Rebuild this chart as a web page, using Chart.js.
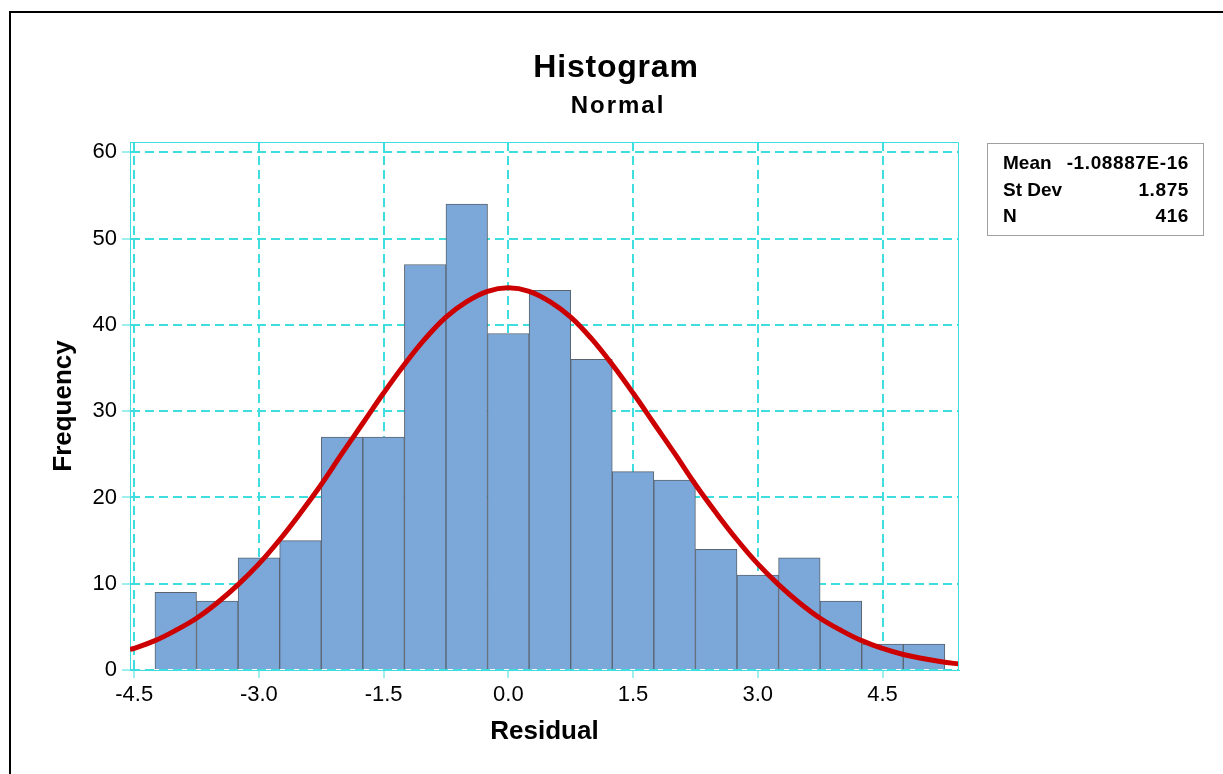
<!DOCTYPE html>
<html>
<head>
<meta charset="utf-8">
<script src="https://cdn.jsdelivr.net/npm/chart.js@4.4.0/dist/chart.umd.min.js"></script>
<style>
  html, body { margin: 0; padding: 0; background: #fff; }
  #caixa { position: relative; width: 1223px; height: 774px; }
</style>
</head>
<body>
<div id="caixa"><canvas id="grafico"></canvas></div>
<script>
const centrosClasses = [-4.0, -3.5, -3.0, -2.5, -2.0, -1.5, -1.0, -0.5, 0.0, 0.5, 1.0, 1.5, 2.0, 2.5, 3.0, 3.5, 4.0, 4.5, 5.0];
const frequencias = [9, 8, 13, 15, 27, 27, 47, 54, 39, 44, 36, 23, 22, 14, 11, 13, 8, 3, 3];

// curva normal ajustada
const curvaX = [-4.55, -4.5, -4.25, -4.0, -3.75, -3.5, -3.25, -3.0, -2.75, -2.5, -2.25, -2.0, -1.75, -1.5, -1.25, -1.0, -0.75, -0.5, -0.25, 0.0,
                0.25, 0.5, 0.75, 1.0, 1.25, 1.5, 1.75, 2.0, 2.25, 2.5, 2.75, 3.0, 3.25, 3.5, 3.75, 4.0, 4.25, 4.5, 4.75, 5.0, 5.25, 5.42];
const curvaY = [2.4, 2.5, 3.4, 4.6, 6.0, 7.8, 9.9, 12.3, 15.1, 18.2, 21.5, 25.1, 28.6, 32.1, 35.4, 38.4, 40.9, 42.7, 43.9, 44.3,
                43.9, 42.7, 40.9, 38.4, 35.4, 32.1, 28.6, 25.1, 21.5, 18.2, 15.1, 12.3, 9.9, 7.8, 6.0, 4.6, 3.4, 2.5, 1.8, 1.3, 0.9, 0.7];

const rotulosEstatisticas = ["Mean", "St Dev", "N"];
const valoresEstatisticas = ["-1.08887E-16", "1.875", "416"];

const corGrade = "#3fdede";
const corBarra = "#7ba7d9";
const corCurva = "#cc0000";
const fonte = "'Liberation Sans', Arial, sans-serif";

const molduraETitulos = {
    id: "molduraETitulos",
    afterDraw(chart) {
        const ctx = chart.ctx;
        const area = chart.chartArea;
        ctx.save();

        // moldura externa (so topo e esquerda aparecem)
        ctx.fillStyle = "#000";
        ctx.fillRect(9, 11, 1223, 2);
        ctx.fillRect(9, 11, 2, 774);

        // bordas superior e direita da area do grafico
        ctx.strokeStyle = corGrade;
        ctx.lineWidth = 1;
        ctx.beginPath();
        ctx.moveTo(area.left, area.top + 0.5);
        ctx.lineTo(area.right - 0.5, area.top + 0.5);
        ctx.lineTo(area.right - 0.5, area.bottom);
        ctx.stroke();

        // titulos
        ctx.fillStyle = "#000";
        ctx.textAlign = "center";
        ctx.textBaseline = "alphabetic";
        ctx.letterSpacing = "0.8px";
        ctx.font = `bold 32px ${fonte}`;
        ctx.fillText("Histogram", 616, 77);
        ctx.letterSpacing = "2px";
        ctx.font = `bold 24px ${fonte}`;
        ctx.fillText("Normal", 618, 113);
        ctx.letterSpacing = "0px";

        // caixa de estatisticas
        ctx.strokeStyle = "#a0a0a0";
        ctx.strokeRect(987.5, 143.5, 216, 92);
        ctx.font = `bold 19px ${fonte}`;
        const linhasBase = [169, 196, 222];
        rotulosEstatisticas.forEach((rotulo, i) => {
            ctx.textAlign = "left";
            ctx.fillText(rotulo, 1003, linhasBase[i]);
            ctx.textAlign = "right";
            ctx.letterSpacing = "0.6px";
            ctx.fillText(valoresEstatisticas[i], 1189, linhasBase[i]);
            ctx.letterSpacing = "0px";
        });
        ctx.restore();
    }
};

const ctx = document.querySelector("#grafico");

new Chart(ctx, {
    type: "bar",
    data: {
        datasets: [
            {
                type: "line",
                label: "Normal",
                data: curvaX.map((x, i) => ({ x: x, y: curvaY[i] })),
                borderColor: corCurva,
                borderWidth: 5,
                pointRadius: 0,
                tension: 0.4,
                fill: false,
                order: 0
            },
            {
                type: "bar",
                label: "Residual",
                data: centrosClasses.map((x, i) => ({ x: x, y: frequencias[i] })),
                backgroundColor: corBarra,
                borderColor: "#5a6470",
                borderWidth: 1,
                barPercentage: 1,
                categoryPercentage: 1,
                order: 1
            }
        ]
    },
    options: {
        responsive: true,
        maintainAspectRatio: false,
        animation: false,
        events: [],
        layout: { padding: { left: 0, top: 142, right: 264, bottom: 0 } },
        plugins: {
            legend: { display: false },
            tooltip: { enabled: false },
            title: { display: false }
        },
        scales: {
            x: {
                type: "linear",
                offset: false,
                min: -4.55,
                max: 5.42,
                afterFit: (escala) => { escala.height = 104; },
                ticks: {
                    stepSize: 1.5,
                    includeBounds: false,
                    padding: 4,
                    color: "#000",
                    font: { family: fonte, size: 22 },
                    callback: (v) => v.toFixed(1)
                },
                grid: {
                    offset: false,
                    color: corGrade,
                    lineWidth: 2,
                    tickColor: corGrade,
                    tickWidth: 1,
                    tickLength: 8
                },
                border: { display: true, color: corGrade, width: 1, dash: [9, 5] },
                title: {
                    display: true,
                    text: "Residual",
                    color: "#000",
                    font: { family: fonte, size: 26, weight: "bold" },
                    padding: { top: 0, bottom: 27 }
                }
            },
            y: {
                min: 0,
                max: 61.2,
                afterFit: (escala) => { escala.width = 130; },
                ticks: {
                    stepSize: 10,
                    includeBounds: false,
                    padding: 5,
                    color: "#000",
                    font: { family: fonte, size: 22 }
                },
                grid: {
                    color: corGrade,
                    lineWidth: 2,
                    tickColor: corGrade,
                    tickWidth: 1,
                    tickLength: 8
                },
                border: { display: true, color: corGrade, width: 1, dash: [9, 5] },
                title: {
                    display: true,
                    text: "Frequency",
                    color: "#000",
                    font: { family: fonte, size: 26, weight: "bold" },
                    padding: { top: 48, bottom: 0 }
                }
            }
        }
    },
    plugins: [molduraETitulos]
});
</script>
</body>
</html>
